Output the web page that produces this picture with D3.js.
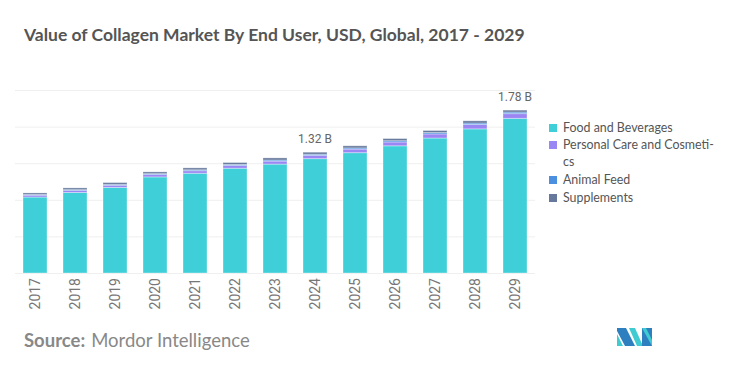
<!DOCTYPE html>
<html>
<head>
<meta charset="utf-8">
<script src="https://cdn.jsdelivr.net/npm/d3@7"></script>
<style>
  body { margin: 0; background: #fff; }
  svg { display: block; }
</style>
</head>
<body>
<div id="chart"></div>
<script>
// Data (USD billions)
const years = ["2017", "2018", "2019", "2020", "2021", "2022", "2023", "2024", "2025", "2026", "2027", "2028", "2029"]
const seriesNames = ["Food and Beverages", "Personal Care and Cosmetics", "Animal Feed", "Supplements"]
const foodBev = [0.83, 0.88, 0.935, 1.05, 1.09, 1.145, 1.19, 1.25, 1.315, 1.39, 1.475, 1.575, 1.69]
const personalCare = [0.02, 0.022, 0.024, 0.026, 0.028, 0.03, 0.033, 0.036, 0.039, 0.042, 0.045, 0.048, 0.052]
const animalFeed = [0.008, 0.009, 0.009, 0.01, 0.01, 0.011, 0.012, 0.012, 0.013, 0.014, 0.015, 0.016, 0.017]
const supplements = [0.017, 0.019, 0.02, 0.019, 0.021, 0.021, 0.023, 0.022, 0.023, 0.023, 0.022, 0.024, 0.021]
const yTicks = [0, 0.4, 0.8, 1.2, 1.6, 2.0]
const labelled = { "2024": "1.32 B", "2029": "1.78 B" }

const colors = ["#3ecfd8", "#9b87f3", "#4a8fe0", "#66789c"]

const width = 736
const height = 372
const margins = { top: 90, left: 15, right: 201, bottom: 99 }

const svg = d3.select("#chart").append("svg")
    .attr("width", width)
    .attr("height", height)

// Build table for stack
const table = years.map((y, i) => ({
    year: y,
    [seriesNames[0]]: foodBev[i],
    [seriesNames[1]]: personalCare[i],
    [seriesNames[2]]: animalFeed[i],
    [seriesNames[3]]: supplements[i]
}))
const stacked = d3.stack().keys(seriesNames)(table)

// Scales
const xScale = d3.scaleBand()
    .domain(years)
    .range([margins.left, width - margins.right])
    .paddingInner(0.4)
    .paddingOuter(0.2)

const yScale = d3.scaleLinear()
    .domain([0, 2])
    .range([height - margins.bottom, margins.top])

// Title
svg.append("text")
    .attr("x", 24)
    .attr("y", 41)
    .attr("font-family", "Lato")
    .attr("font-weight", "700")
    .attr("font-size", "17.5px")
    .attr("fill", "#555")
    .text("Value of Collagen Market By End User, USD, Global, 2017 - 2029")

// Gridlines
const yAxis = svg.append("g")
    .attr("transform", `translate(${margins.left},0)`)
    .call(d3.axisLeft(yScale)
        .tickValues(yTicks)
        .tickSize(-(width - margins.left - margins.right))
        .tickFormat(""))
yAxis.select(".domain").remove()
yAxis.selectAll(".tick line")
    .attr("stroke", "#efefef")
    .attr("stroke-width", 1)

// Bars
const layers = svg.append("g").selectAll("g")
    .data(stacked)
    .join("g")
    .attr("fill", (d, i) => colors[i])

layers.selectAll("rect")
    .data(d => d)
    .join("rect")
    .attr("x", d => xScale(d.data.year))
    .attr("width", xScale.bandwidth())
    .attr("y", d => yScale(d[1]))
    .attr("height", d => yScale(d[0]) - yScale(d[1]))
    .attr("stroke", "rgba(255,255,255,0.35)")
    .attr("stroke-width", 1)

// Value labels
svg.append("g").selectAll("text")
    .data(table.filter(d => labelled[d.year]))
    .join("text")
    .attr("x", d => xScale(d.year) + xScale.bandwidth() / 2)
    .attr("y", d => yScale(d3.sum(seriesNames, k => d[k])) - 9)
    .attr("text-anchor", "middle")
    .attr("font-family", "Roboto")
    .attr("font-size", "12px")
    .attr("fill", "#666")
    .text(d => labelled[d.year])

// X axis labels
const xAxis = svg.append("g")
    .attr("transform", `translate(0,${height - margins.bottom})`)
    .call(d3.axisBottom(xScale).tickSize(0).tickPadding(0))
xAxis.select(".domain").remove()
xAxis.selectAll("text")
    .attr("transform", "rotate(-90)")
    .attr("text-anchor", "end")
    .attr("x", -5)
    .attr("y", 0)
    .attr("dy", "0.35em")
    .attr("font-family", "Roboto")
    .attr("font-size", "14px")
    .attr("fill", "#777")

// Legend
const legendRows = [
    { lines: ["Food and Beverages"], y: 128 },
    { lines: ["Personal Care and Cosmeti-", "cs"], y: 145 },
    { lines: ["Animal Feed"], y: 180 },
    { lines: ["Supplements"], y: 198 }
]
const legend = svg.append("g").selectAll("g")
    .data(legendRows)
    .join("g")
    .attr("transform", d => `translate(549,${d.y})`)

legend.append("rect")
    .attr("x", 0)
    .attr("y", -4)
    .attr("width", 8)
    .attr("height", 8)
    .attr("fill", (d, i) => colors[i])

legend.append("text")
    .attr("font-family", "Lato")
    .attr("font-size", "12.4px")
    .attr("fill", "#555")
    .selectAll("tspan")
    .data(d => d.lines)
    .join("tspan")
    .attr("x", 14)
    .attr("y", (d, i) => i * 17)
    .attr("dy", "0.35em")
    .text(d => d)

// Source
const source = svg.append("text")
    .attr("x", 24)
    .attr("y", 347)
    .attr("font-family", "Lato")
    .attr("font-size", "18.5px")
    .attr("fill", "#888")
source.append("tspan").attr("font-weight", "700").text("Source:")
source.append("tspan").attr("dx", 6).attr("font-weight", "400").text("Mordor Intelligence")

// Logo
const logo = svg.append("g").attr("transform", "translate(617,328)")
logo.append("polygon").attr("points", "0,6 0,18 6,18").attr("fill", "#40cbd3")
logo.append("polygon").attr("points", "0,0 9,0 18,18 8,18 0,3").attr("fill", "#2d7fbf")
logo.append("polygon").attr("points", "12,0 18,0 26,18 20,18").attr("fill", "#40cbd3")
logo.append("polygon").attr("points", "25,0 35,0 35,18 25,18").attr("fill", "#2d7fbf")
logo.append("polygon").attr("points", "25,0 29,0 35,12 35,18").attr("fill", "#40cbd3")
</script>
</body>
</html>
